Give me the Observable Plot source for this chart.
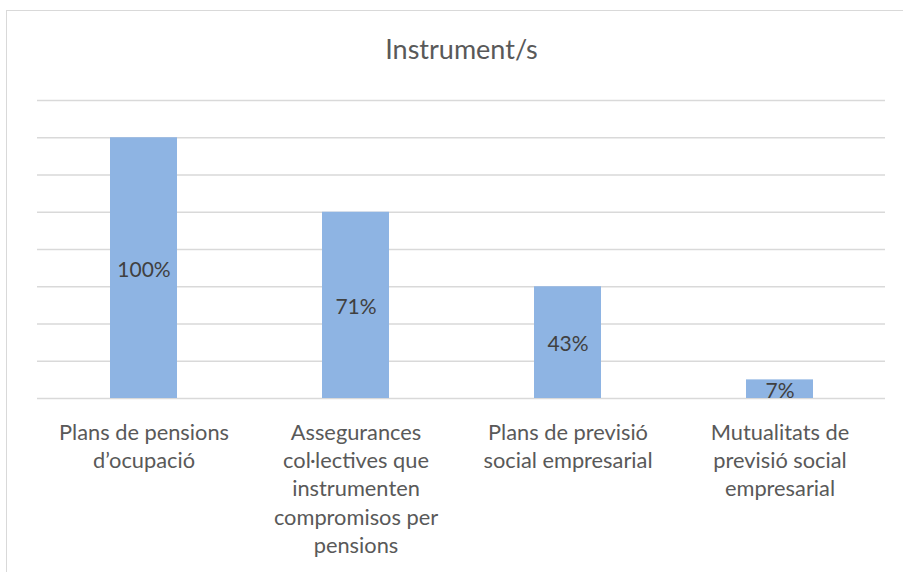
<!DOCTYPE html>
<html>
<head>
<meta charset="utf-8">
<script src="https://cdn.jsdelivr.net/npm/d3@7"></script>
<script src="https://cdn.jsdelivr.net/npm/@observablehq/plot@0.6"></script>
<style>
  html, body { margin: 0; padding: 0; background: #fff; overflow: hidden; width: 903px; height: 572px; }
  #frame { position: absolute; left: 6px; top: 10px; width: 920px; height: 620px; border: 1.5px solid #d9d9d9; box-sizing: border-box; }
  #title { position: absolute; left: 0; width: 923px; top: 34px; height: 30px; line-height: 30px; text-align: center;
           font-family: Lato, sans-serif; font-size: 27px; color: #595959; }
  #chart { position: absolute; left: 0; top: 0; }
</style>
</head>
<body>
<div id="frame"></div>
<div id="title">Instrument/s</div>
<div id="chart"></div>
<script>
const categories = [
  "Plans de pensions d’ocupació",
  "Assegurances col·lectives que instrumenten compromisos per pensions",
  "Plans de previsió social empresarial",
  "Mutualitats de previsió social empresarial"
];
const tickLabels = [
  "Plans de pensions\nd’ocupació",
  "Assegurances\ncol·lectives que\ninstrumenten\ncompromisos per\npensions",
  "Plans de previsió\nsocial empresarial",
  "Mutualitats de\nprevisió social\nempresarial"
];
const values = [14, 10, 6, 1];
const valueLabels = ["100%", "71%", "43%", "7%"];
const gridTicks = [0, 2, 4, 6, 8, 10, 12, 14, 16];

const data = categories.map((c, i) => ({category: c, value: values[i], label: valueLabels[i]}));

const chart = Plot.plot({
  width: 903,
  height: 572,
  marginLeft: 37,
  marginRight: 18,
  marginTop: 100,
  marginBottom: 174,
  style: {fontFamily: "Lato, sans-serif", background: "transparent"},
  x: {domain: categories, paddingInner: 0.685, paddingOuter: 0.3425, label: null},
  y: {domain: [0, 16], label: null, axis: null},
  marks: [
    Plot.ruleY(gridTicks, {stroke: "#d9d9d9", strokeWidth: 1.4}),
    Plot.barY(data, {x: "category", y: "value", fill: "#8eb4e3"}),
    Plot.text(data, {x: "category", y: d => d.value / 2, text: "label", fill: "#404040", fontSize: 21, dy: 2}),
    Plot.axisX({
      tickSize: 0, tickPadding: 21, fontSize: 21.8, lineHeight: 1.3, fill: "#595959",
      tickFormat: d => tickLabels[categories.indexOf(d)], label: null
    })
  ]
});
document.getElementById("chart").appendChild(chart);
</script>
</body>
</html>
